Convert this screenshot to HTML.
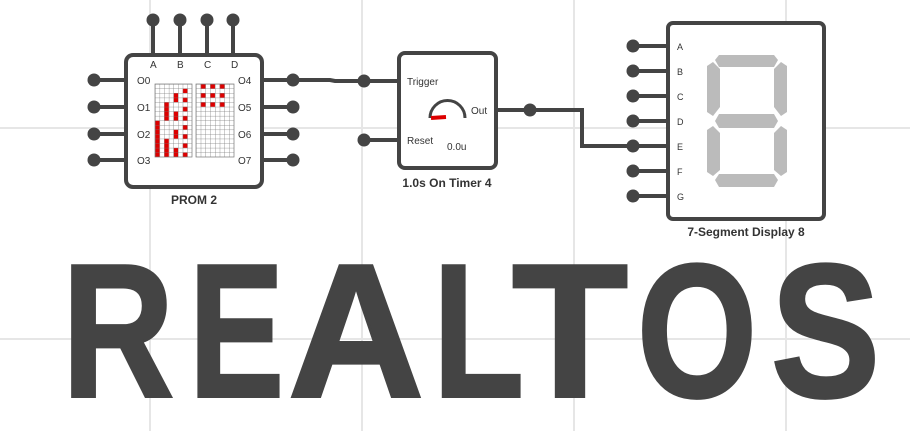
<!DOCTYPE html>
<html><head><meta charset="utf-8"><style>
html,body{margin:0;padding:0;background:#fff;}
svg{display:block;}
text{font-family:"Liberation Sans",Arial,sans-serif;fill:#333;}
</style></head><body>
<svg width="910" height="431" viewBox="0 0 910 431" xmlns="http://www.w3.org/2000/svg">
<defs>
<pattern id="cell" x="155" y="84" width="4.625" height="4.56" patternUnits="userSpaceOnUse">
<path d="M0 0H4.625M0 0V4.56" stroke="#777" stroke-width="0.7" fill="none"/>
</pattern>
<pattern id="cell2" x="196" y="84" width="4.75" height="4.56" patternUnits="userSpaceOnUse">
<path d="M0 0H4.75M0 0V4.56" stroke="#777" stroke-width="0.7" fill="none"/>
</pattern>
</defs>
<g stroke="#e6e6e6" stroke-width="2">
<line x1="150" y1="0" x2="150" y2="431"/><line x1="362" y1="0" x2="362" y2="431"/>
<line x1="574" y1="0" x2="574" y2="431"/><line x1="786" y1="0" x2="786" y2="431"/>
<line x1="0" y1="128" x2="910" y2="128"/><line x1="0" y1="339" x2="910" y2="339"/>
</g>

<g font-family="Liberation Sans, Arial, sans-serif" font-weight="bold" font-size="190" fill="#444" stroke="#444" stroke-width="3">
<text x="62" y="396.5" textLength="112" lengthAdjust="spacingAndGlyphs" style="fill:#444">R</text>
<text x="189" y="396.5" textLength="95" lengthAdjust="spacingAndGlyphs" style="fill:#444">E</text>
<text x="288" y="396.5" textLength="136" lengthAdjust="spacingAndGlyphs" style="fill:#444">A</text>
<text x="433" y="396.5" textLength="91" lengthAdjust="spacingAndGlyphs" style="fill:#444">L</text>
<text x="512" y="396.5" textLength="116" lengthAdjust="spacingAndGlyphs" style="fill:#444">T</text>
<text x="637" y="396.5" textLength="120" lengthAdjust="spacingAndGlyphs" style="fill:#444">O</text>
<text x="771" y="396.5" textLength="109" lengthAdjust="spacingAndGlyphs" style="fill:#444">S</text>
</g>

<g stroke="#444" stroke-width="4" fill="none">
<line x1="153" y1="20" x2="153" y2="55"/><line x1="180" y1="20" x2="180" y2="55"/>
<line x1="207" y1="20" x2="207" y2="55"/><line x1="233" y1="20" x2="233" y2="55"/>
<line x1="94" y1="80" x2="126" y2="80"/><line x1="94" y1="107" x2="126" y2="107"/>
<line x1="94" y1="134" x2="126" y2="134"/><line x1="94" y1="160" x2="126" y2="160"/>
<line x1="262" y1="80" x2="293" y2="80"/><line x1="262" y1="107" x2="293" y2="107"/>
<line x1="262" y1="134" x2="293" y2="134"/><line x1="262" y1="160" x2="293" y2="160"/>
<polyline points="293,80 330,80 335,81 399,81"/>
<line x1="364" y1="140" x2="399" y2="140"/>
<polyline points="496,110 582,110 582,146 633,146"/>
<line x1="633" y1="46" x2="668" y2="46"/><line x1="633" y1="71" x2="668" y2="71"/>
<line x1="633" y1="96" x2="668" y2="96"/><line x1="633" y1="121" x2="668" y2="121"/>
<line x1="633" y1="146" x2="668" y2="146"/><line x1="633" y1="171" x2="668" y2="171"/>
<line x1="633" y1="196" x2="668" y2="196"/>
</g>
<g fill="#444">
<circle cx="153" cy="20" r="6.5"/><circle cx="180" cy="20" r="6.5"/><circle cx="207" cy="20" r="6.5"/><circle cx="233" cy="20" r="6.5"/>
<circle cx="94" cy="80" r="6.5"/><circle cx="94" cy="107" r="6.5"/><circle cx="94" cy="134" r="6.5"/><circle cx="94" cy="160" r="6.5"/>
<circle cx="293" cy="80" r="6.5"/><circle cx="293" cy="107" r="6.5"/><circle cx="293" cy="134" r="6.5"/><circle cx="293" cy="160" r="6.5"/>
<circle cx="364" cy="81" r="6.5"/><circle cx="364" cy="140" r="6.5"/><circle cx="530" cy="110" r="6.5"/>
<circle cx="633" cy="46" r="6.5"/><circle cx="633" cy="71" r="6.5"/><circle cx="633" cy="96" r="6.5"/><circle cx="633" cy="121" r="6.5"/>
<circle cx="633" cy="146" r="6.5"/><circle cx="633" cy="171" r="6.5"/><circle cx="633" cy="196" r="6.5"/>
</g>

<rect x="126" y="55" width="136" height="132" rx="7" fill="#fff" stroke="#444" stroke-width="4"/>
<g font-size="10">
<text x="150" y="68">A</text><text x="177" y="68">B</text><text x="204" y="68">C</text><text x="231" y="68">D</text>
<text x="137" y="84">O0</text><text x="137" y="111">O1</text><text x="137" y="138">O2</text><text x="137" y="164">O3</text>
<text x="238" y="84">O4</text><text x="238" y="111">O5</text><text x="238" y="138">O6</text><text x="238" y="164">O7</text>
</g>
<g fill="#d00">
<rect x="155" y="120.5" width="4.6" height="36.5"/>
<rect x="164.2" y="102.2" width="4.6" height="18.3"/><rect x="164.2" y="138.7" width="4.6" height="18.3"/>
<rect x="173.5" y="93.1" width="4.6" height="9.1"/><rect x="173.5" y="111.4" width="4.6" height="9.1"/>
<rect x="173.5" y="129.6" width="4.6" height="9.1"/><rect x="173.5" y="147.9" width="4.6" height="9.1"/>
<rect x="182.8" y="88.5" width="4.6" height="4.6"/><rect x="182.8" y="97.6" width="4.6" height="4.6"/>
<rect x="182.8" y="106.8" width="4.6" height="4.6"/><rect x="182.8" y="115.9" width="4.6" height="4.6"/>
<rect x="182.8" y="125" width="4.6" height="4.6"/><rect x="182.8" y="134.2" width="4.6" height="4.6"/>
<rect x="182.8" y="143.3" width="4.6" height="4.6"/><rect x="182.8" y="152.4" width="4.6" height="4.6"/>
<rect x="200.7" y="84" width="4.75" height="4.6"/><rect x="210.2" y="84" width="4.75" height="4.6"/><rect x="219.7" y="84" width="4.75" height="4.6"/>
<rect x="200.7" y="93.1" width="4.75" height="4.6"/><rect x="210.2" y="93.1" width="4.75" height="4.6"/><rect x="219.7" y="93.1" width="4.75" height="4.6"/>
<rect x="200.7" y="102.2" width="4.75" height="4.6"/><rect x="210.2" y="102.2" width="4.75" height="4.6"/><rect x="219.7" y="102.2" width="4.75" height="4.6"/>
</g>
<rect x="155" y="84" width="37" height="73" fill="url(#cell)" stroke="#777" stroke-width="0.7"/>
<rect x="196" y="84" width="38" height="73" fill="url(#cell2)" stroke="#777" stroke-width="0.7"/>
<text x="194" y="204" font-size="12" font-weight="bold" text-anchor="middle">PROM 2</text>

<rect x="399" y="53" width="97" height="115" rx="6" fill="#fff" stroke="#444" stroke-width="4"/>
<text x="407" y="85" font-size="10">Trigger</text>
<text x="407" y="144" font-size="10">Reset</text>
<text x="471" y="114" font-size="10">Out</text>
<text x="447" y="150" font-size="10">0.0u</text>
<path d="M430 118 A17 17 0 0 1 465 118" fill="none" stroke="#444" stroke-width="3"/>
<line x1="431" y1="118" x2="446" y2="117" stroke="#d00" stroke-width="4"/>
<text x="447" y="187" font-size="12" font-weight="bold" text-anchor="middle">1.0s On Timer 4</text>

<rect x="668" y="23" width="156" height="196" rx="5" fill="#fff" stroke="#444" stroke-width="4"/>
<g font-size="9">
<text x="677" y="50">A</text><text x="677" y="75">B</text><text x="677" y="100">C</text><text x="677" y="125">D</text>
<text x="677" y="150">E</text><text x="677" y="175">F</text><text x="677" y="200">G</text>
</g>
<g fill="#bbb">
<polygon points="719,55 774,55 778,60 774,67 719,67 715,60"/>
<polygon points="719,114 774,114 778,121 774,128 719,128 715,121"/>
<polygon points="719,174 774,174 778,180 774,187 719,187 715,180"/>
<polygon points="707,66 713,62 720,69 720,107 713,116 707,112"/>
<polygon points="787,66 781,62 774,69 774,107 781,116 787,112"/>
<polygon points="707,130 713,126 720,133 720,170 713,176 707,172"/>
<polygon points="787,130 781,126 774,133 774,170 781,176 787,172"/>
</g>
<text x="746" y="236" font-size="12" font-weight="bold" text-anchor="middle">7-Segment Display 8</text>
</svg>
</body></html>
